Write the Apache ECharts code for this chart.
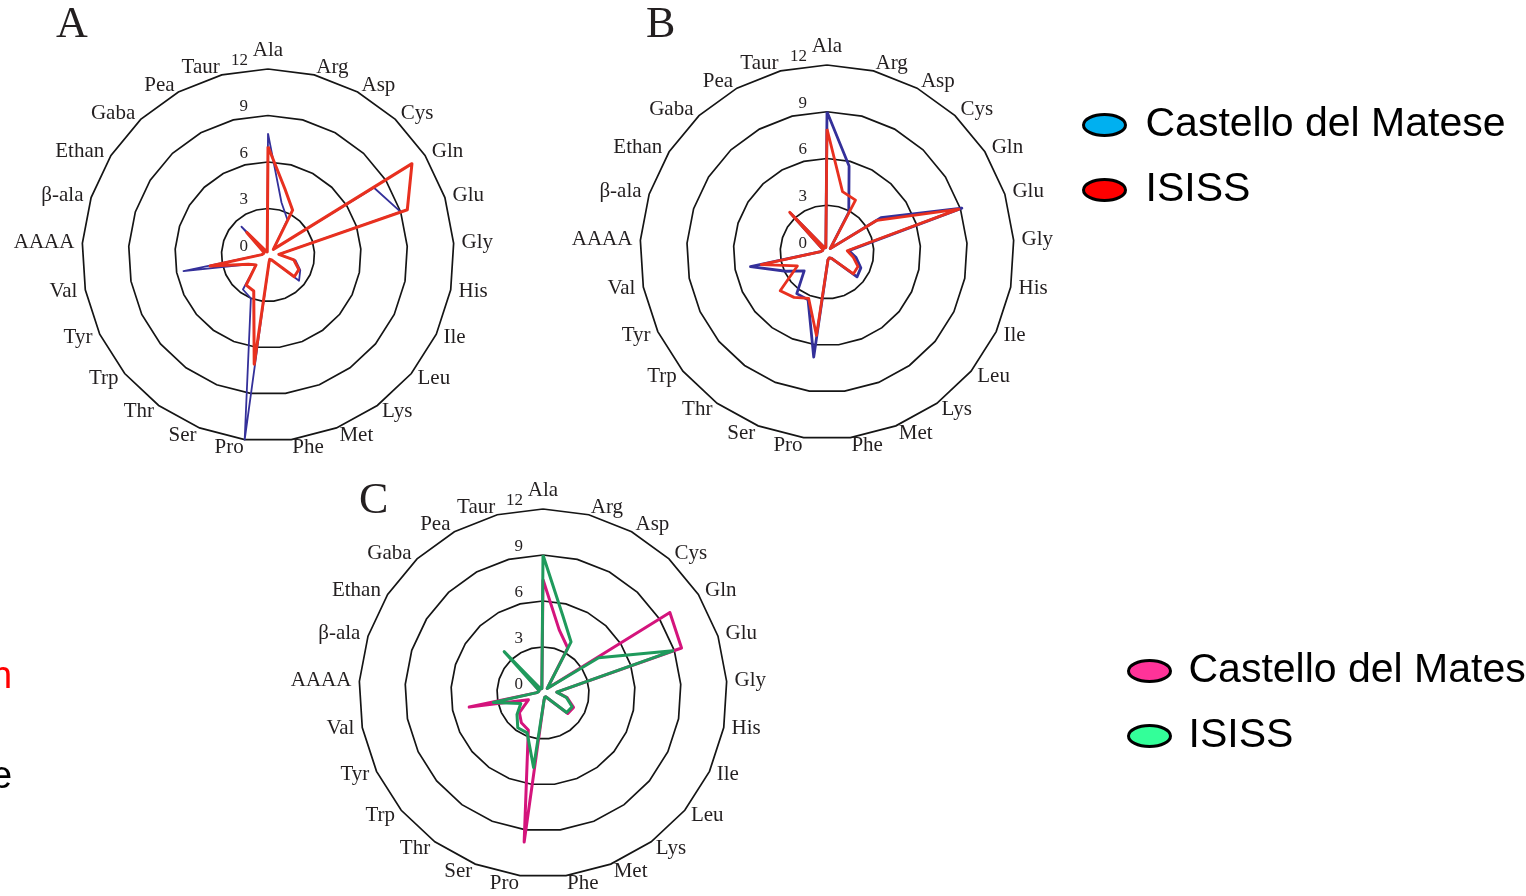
<!DOCTYPE html>
<html><head><meta charset="utf-8">
<script src="https://cdn.jsdelivr.net/npm/echarts@6/dist/echarts.min.js"></script>
<style>html,body{margin:0;padding:0;background:#fff}#c{width:1526px;height:896px}</style>
</head><body><div id="c"></div>
<script>
const categories = ['Ala','Arg','Asp','Cys','Gln','Glu','Gly','His','Ile','Leu','Lys','Met','Phe','Pro','Ser','Thr','Trp','Tyr','Val','AAAA','β-ala','Ethan','Gaba','Pea','Taur'];
const tickValues = [0, 3, 6, 9, 12];
const seriesNames = ['Castello del Matese', 'ISISS'];
const panelTitles = ['A', 'B', 'C'];

const A_castello = [7.85,3.5,2.6,0.5,8.1,9.0,0.7,1.8,2.3,2.6,0.4,0.3,0.5,12.0,3.0,2.75,1.0,1.4,5.55,0.4,0.3,0.3,2.5,0.3,0.2];
const A_isiss    = [7.0,4.4,3.3,0.5,11.0,9.45,0.7,1.7,2.2,2.2,0.4,0.3,0.5,7.1,2.5,2.4,1.0,1.4,3.8,0.4,0.3,0.3,2.0,0.3,0.2];
const B_castello = [9.0,5.7,2.9,0.3,4.1,9.1,1.4,1.9,2.4,2.5,0.5,0.4,0.5,6.8,3.3,3.3,1.9,2.9,5.0,0.4,0.3,0.3,3.4,0.3,0.3];
const B_isiss    = [7.9,4.0,3.8,0.3,3.8,8.9,1.3,1.7,2.2,2.2,0.5,0.4,0.5,5.4,3.2,3.6,3.9,2.1,4.3,0.4,0.3,0.3,3.5,0.3,0.3];
const C_castello = [7.4,4.25,3.35,0.4,9.8,9.5,0.9,1.6,2.2,2.1,0.3,0.3,0.5,9.8,2.6,2.4,2.0,1.05,4.9,0.4,0.3,0.3,1.7,0.3,0.3];
const C_isiss    = [9.0,5.2,3.8,0.4,4.3,8.9,0.9,1.55,2.1,2.0,0.3,0.3,0.5,4.9,2.8,2.8,2.2,1.6,3.3,0.4,0.3,0.3,3.7,0.3,0.3];

const lineColors = { A: ['#34309a', '#e8301f'], B: ['#34309a', '#e8301f'], C: ['#d4147c', '#1f9a5c'] };
const lineWidths = { A: [1.8, 3], B: [2.8, 2.8], C: [3, 3] };
const legendColors = [['#00B0F0', '#FF0000'], ['#FF3399', '#33FF99']];

const n = categories.length;
// ECharts lays radar indicators counter-clockwise; reorder to get clockwise reading
const order = [0].concat(categories.map((_, i) => n - 1 - i).slice(0, n - 1));
const reorder = arr => order.map(i => arr[i]);

const serif = 'Liberation Serif';
const panels = [
  { key: 'A', center: [268, 255], radius: 186, data: [A_castello, A_isiss] },
  { key: 'B', center: [827, 252], radius: 187, data: [B_castello, B_isiss] },
  { key: 'C', center: [543, 693], radius: 184, data: [C_castello, C_isiss] }
];

const tickLabel = { show: true, color: '#231f20', fontSize: 17, fontFamily: serif, margin: 20, verticalAlign: 'bottom' };

const radar = panels.map(p => ({
  center: p.center,
  radius: p.radius,
  startAngle: 90,
  shape: 'polygon',
  splitNumber: tickValues.length - 1,
  nameGap: 8,
  axisName: { color: '#231f20', fontSize: 21, fontFamily: serif },
  splitLine: { lineStyle: { color: '#151515', width: 1.7 } },
  splitArea: { show: false },
  axisLine: { show: false },
  axisTick: { show: false },
  axisLabel: { show: false, color: '#231f20', fontSize: 17, fontFamily: serif, margin: 20 },
  indicator: order.map((i, k) => ({
    name: categories[i],
    min: tickValues[0],
    max: tickValues[tickValues.length - 1],
    axisLabel: k === 0 ? tickLabel : { show: false }
  }))
}));

const series = panels.map((p, idx) => ({
  type: 'radar',
  radarIndex: idx,
  symbol: 'none',
  silent: true,
  data: p.data.map((vals, j) => ({
    name: seriesNames[j],
    value: reorder(vals),
    lineStyle: { color: lineColors[p.key][j], width: lineWidths[p.key][j] },
    itemStyle: { color: lineColors[p.key][j] }
  }))
}));

const ellipse = 'path://M0,10A20,10 0 1,1 40,10A20,10 0 1,1 0,10Z';
const legendBase = {
  orient: 'vertical', padding: 0, itemWidth: 42, itemHeight: 21, itemGap: 21,
  icon: ellipse, selectedMode: false,
  textStyle: { fontSize: 41, fontFamily: 'Liberation Sans', color: '#000', lineHeight: 44, padding: [0, 0, 0, 15] }
};
const legend = [
  Object.assign({}, legendBase, { left: 1082, top: 103,
    data: seriesNames.map((nm, j) => ({ name: nm, itemStyle: { color: legendColors[0][j], borderColor: '#000', borderWidth: 3 } })) }),
  Object.assign({}, legendBase, { left: 1127, top: 649,
    textStyle: Object.assign({}, legendBase.textStyle, { padding: [0, 0, 0, 13] }),
    data: seriesNames.map((nm, j) => ({ name: nm, itemStyle: { color: legendColors[1][j], borderColor: '#000', borderWidth: 3 } })) })
];

const titlePos = [[56, 3], [646, 3], [359, 479]];
const title = panelTitles.map((t, i) => ({
  text: t, left: titlePos[i][0], top: titlePos[i][1], padding: 0,
  textStyle: { fontFamily: serif, fontWeight: 'normal', fontSize: 44, color: '#231f20' }
}));

const chart = echarts.init(document.getElementById('c'));
chart.setOption({
  backgroundColor: '#fff',
  animation: false,
  title, legend, radar, series,
  graphic: [
    { type: 'text', left: -9, top: 659, style: { text: 'n', fill: '#ff0000', font: '38px "Liberation Sans"' } },
    { type: 'text', left: -9, top: 759, style: { text: 'e', fill: '#000', font: '38px "Liberation Sans"' } }
  ]
});
</script></body></html>
